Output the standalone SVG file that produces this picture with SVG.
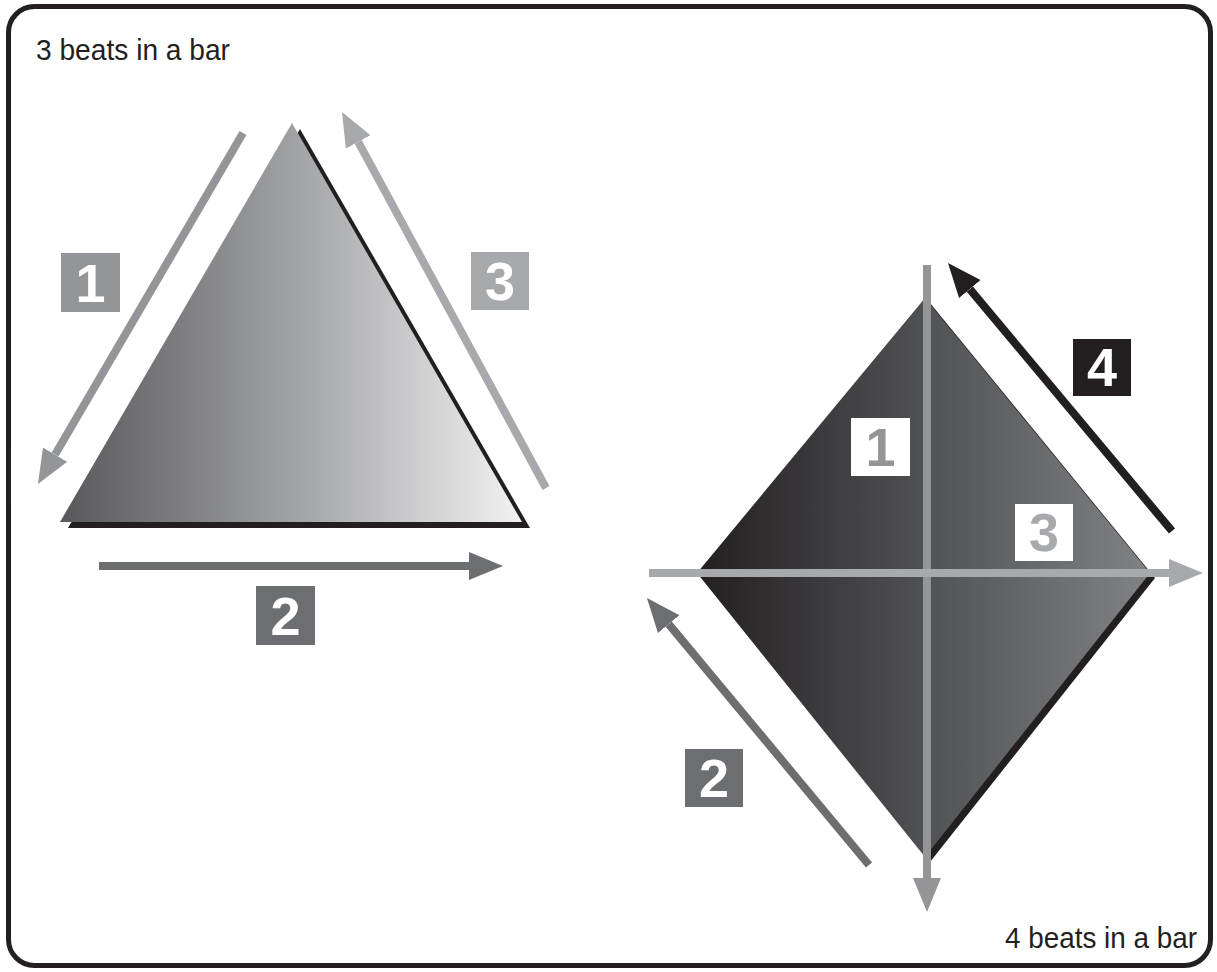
<svg xmlns="http://www.w3.org/2000/svg" width="1217" height="972" viewBox="0 0 1217 972">
<style>
.cap{font-family:"Liberation Sans","DejaVu Sans",sans-serif;font-size:30px;fill:#231f20}
.num{font-family:"Liberation Sans","DejaVu Sans",sans-serif;font-size:54px;font-weight:bold;text-anchor:middle}
.ln{fill:none;stroke-width:8;stroke-linecap:butt}
</style>
<defs>
<linearGradient id="gTri" x1="0" y1="0" x2="1" y2="0">
<stop offset="0" stop-color="#58585b"/>
<stop offset="0.5" stop-color="#a0a1a4"/>
<stop offset="1" stop-color="#f2f2f2"/>
</linearGradient>
<linearGradient id="gDia" x1="0" y1="0" x2="1" y2="0">
<stop offset="0" stop-color="#231f20"/>
<stop offset="0.5" stop-color="#505154"/>
<stop offset="1" stop-color="#818285"/>
</linearGradient>
<marker id="hA" markerUnits="userSpaceOnUse" markerWidth="40" markerHeight="32" refX="0" refY="15" orient="auto" viewBox="0 0 40 30"><path d="M0,1 L34,15 L0,29 z" fill="#939598"/></marker>
<marker id="hB" markerUnits="userSpaceOnUse" markerWidth="40" markerHeight="32" refX="0" refY="15" orient="auto" viewBox="0 0 40 30"><path d="M0,1 L34,15 L0,29 z" fill="#a7a9ac"/></marker>
<marker id="hC" markerUnits="userSpaceOnUse" markerWidth="40" markerHeight="32" refX="0" refY="15" orient="auto" viewBox="0 0 40 30"><path d="M0,1 L34,15 L0,29 z" fill="#6d6e71"/></marker>
<marker id="hD" markerUnits="userSpaceOnUse" markerWidth="40" markerHeight="32" refX="0" refY="15" orient="auto" viewBox="0 0 40 30"><path d="M0,1 L34,15 L0,29 z" fill="#231f20"/></marker>
</defs>
<rect x="8.5" y="6.5" width="1202" height="959" rx="26" fill="#ffffff" stroke="#231f20" stroke-width="5"/>
<text class="cap" x="36" y="60" textLength="194" lengthAdjust="spacingAndGlyphs">3 beats in a bar</text>
<text class="cap" x="1005" y="948" textLength="192" lengthAdjust="spacingAndGlyphs">4 beats in a bar</text>

<g id="triangle">
<polygon points="300,129 68,528 530,528" fill="#231f20"/>
<polygon points="292,123 60,522 522,522" fill="url(#gTri)"/>
</g>
<g id="diamond">
<polygon points="930,303 1155,578 930,862 702,578" fill="#231f20"/>
<polygon points="925,298 1150,573 925,857 697,573" fill="url(#gDia)"/>
</g>

<g id="connectors">
<line class="ln" x1="243" y1="133" x2="55.1" y2="454.6" stroke="#939598" marker-end="url(#hA)"/>
<line class="ln" x1="99" y1="566" x2="469" y2="566" stroke="#6d6e71" marker-end="url(#hC)"/>
<line class="ln" x1="546" y1="488" x2="358.2" y2="141.9" stroke="#a7a9ac" marker-end="url(#hB)"/>
<line class="ln" x1="927" y1="265" x2="927" y2="878" stroke="#939598" marker-end="url(#hA)"/>
<line class="ln" x1="649" y1="573" x2="1169" y2="573" stroke="#a7a9ac" marker-end="url(#hB)"/>
<line class="ln" x1="869" y1="865" x2="668.7" y2="624.1" stroke="#6d6e71" marker-end="url(#hC)"/>
<line class="ln" x1="1172" y1="531" x2="969.8" y2="289.1" stroke="#231f20" marker-end="url(#hD)"/>
</g>

<g id="tri-label-1"><rect x="61" y="253" width="59" height="59" fill="#939598"/><text class="num" x="90.5" y="302" fill="#ffffff">1</text></g>
<g id="tri-label-2"><rect x="256" y="586" width="59" height="59" fill="#6d6e71"/><text class="num" x="285.5" y="635" fill="#ffffff">2</text></g>
<g id="tri-label-3"><rect x="471" y="252" width="58" height="58" fill="#a7a9ac"/><text class="num" x="500" y="300" fill="#ffffff">3</text></g>

<g id="dia-label-1"><rect x="851" y="418" width="59" height="58" fill="#ffffff"/><text class="num" x="880.5" y="466" fill="#939598">1</text></g>
<g id="dia-label-2"><rect x="685" y="749" width="58" height="58" fill="#6d6e71"/><text class="num" x="714" y="797" fill="#ffffff">2</text></g>
<g id="dia-label-3"><rect x="1015" y="504" width="58" height="57" fill="#ffffff"/><text class="num" x="1044" y="551" fill="#a7a9ac">3</text></g>
<g id="dia-label-4"><rect x="1073" y="339" width="58" height="57" fill="#231f20"/><text class="num" x="1102" y="386" fill="#ffffff">4</text></g>
</svg>
